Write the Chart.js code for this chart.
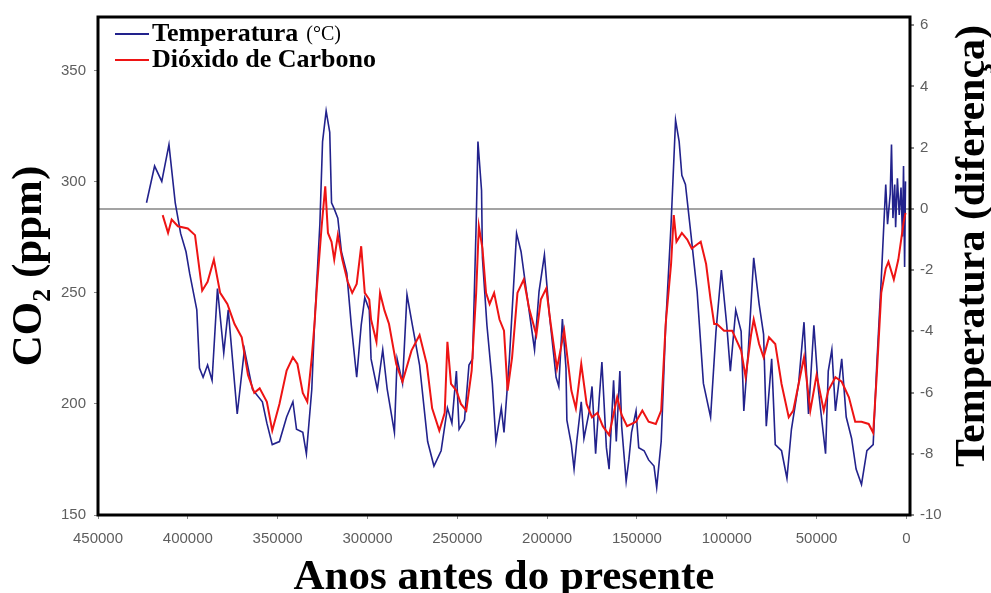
<!DOCTYPE html>
<html>
<head>
<meta charset="utf-8">
<script src="https://cdn.jsdelivr.net/npm/chart.js@4.4.1/dist/chart.umd.min.js"></script>
<style>
  body { margin: 0; background: #fff; }
  canvas { display: block; }
</style>
</head>
<body>
<canvas id="chart" width="991" height="593"></canvas>
<script>
// ── Dados ────────────────────────────────────────────────
const tempYears = [
  423000, 418500, 414500, 410500, 407000, 404000, 401000, 399000, 395000, 393500,
  391500, 389000, 386500, 383500, 380000, 377500, 372500, 368500, 364000, 358500,
  356000, 353000, 349000, 345000, 341500, 339500, 336000, 334000, 331000, 329500,
  326500, 325000, 323000, 321000, 320000, 318500, 316500, 314500, 311500, 309000,
  306000, 303500, 301500, 299000, 298000, 294500, 291500, 289000, 285000, 283500,
  280500, 278000, 275000, 271000, 266500, 263000, 259000, 255500, 253000, 250500,
  249000, 246000, 243500, 241500, 239500, 238500, 236500, 236000, 233500, 230500,
  228500, 225500, 224000, 221000, 217000, 214500, 211500, 207000, 204500, 201500,
  199000, 195000, 193500, 191500, 189500, 189000, 186500, 185000, 183500, 181000,
  179500, 176500, 175000, 173000, 171000, 169500, 167000, 165500, 163000, 161500,
  159500, 158500, 156000, 154500, 153000, 150500, 149000, 146000, 143500, 140500,
  139000, 136500, 134000, 131000, 128500, 126500, 125000, 123000, 120000, 116500,
  113000, 109000, 106000, 103000, 100000, 98000, 95000, 92000, 90500, 88000,
  85000, 82000, 79500, 78000, 75000, 73000, 69500, 66500, 64000, 60000,
  57000, 54500, 51500, 49000, 45000, 43500, 41500, 39500, 36000, 33500,
  30500, 28000, 25000, 22000, 18500, 16500, 14000, 11500, 10500, 9000,
  8300, 7500, 6500, 6000, 5000, 4000, 3000, 2200, 1600, 1000,
  500
];
const tempValues = [
  0.2, 1.4, 0.9, 2.1, 0.2, -0.8, -1.4, -2.1, -3.3, -5.2,
  -5.5, -5.1, -5.6, -2.6, -4.7, -3.3, -6.7, -4.6, -5.9, -6.3,
  -7.0, -7.7, -7.6, -6.8, -6.3, -7.2, -7.3, -8.0, -5.9, -3.8,
  -0.5, 2.2, 3.2, 2.5, 0.2, 0.0, -0.3, -1.4, -2.1, -3.8,
  -5.5, -3.8, -2.9, -3.3, -4.9, -5.9, -4.6, -5.9, -7.3, -4.9,
  -5.7, -2.8, -3.8, -5.1, -7.6, -8.4, -7.9, -6.5, -7.0, -5.3,
  -7.2, -6.9, -5.1, -4.9, -0.5, 2.2, 0.6, -1.6, -3.8, -5.7,
  -7.6, -6.5, -7.3, -4.9, -0.8, -1.4, -2.7, -4.6, -2.7, -1.5,
  -3.3, -5.5, -5.8, -3.6, -5.2, -6.9, -7.7, -8.5, -7.6, -6.3,
  -7.5, -6.6, -5.8, -8.0, -6.2, -5.0, -7.8, -8.5, -5.6, -7.6,
  -5.3, -7.1, -8.9, -8.2, -7.3, -6.6, -7.8, -7.9, -8.2, -8.4,
  -9.1, -7.6, -3.8, -0.5, 2.9, 2.2, 1.1, 0.8, -0.8, -2.7,
  -5.7, -6.8, -4.0, -2.0, -3.8, -5.3, -3.3, -4.0, -6.6, -4.6,
  -1.6, -3.1, -4.1, -7.1, -4.9, -7.7, -7.9, -8.8, -7.2, -5.7,
  -3.7, -6.7, -3.8, -5.9, -8.0, -5.3, -4.6, -6.6, -4.9, -6.8,
  -7.5, -8.5, -9.0, -7.9, -7.7, -5.1, -2.3, 0.8, -0.5, 0.5,
  2.1, -0.3, 0.8, -0.6, 1.0, -0.2, 0.7, -0.9, 1.4, -1.9,
  0.9
];

const co2Years = [
  414000, 411000, 409000, 405500, 400000, 396000, 392000, 389000, 385500, 382000,
  378000, 374000, 370000, 366500, 363000, 360000, 356000, 353000, 349000, 345000,
  341500, 339000, 336000, 333500, 331000, 329500, 328000, 325500, 323500, 322000,
  320000, 318500, 316500, 314000, 311000, 308500, 306000, 303500, 301500, 299000,
  298000, 295000, 293000, 290500, 288000, 284000, 280500, 275500, 271000, 267000,
  264000, 260000, 257000, 255500, 253500, 250500, 248000, 245000, 242000, 239500,
  238000, 236000, 234000, 232000, 229500, 226500, 224000, 222000, 219500, 216500,
  213000, 210000, 206000, 203500, 200500, 198000, 194500, 190500, 186500, 184000,
  181000, 178000, 175000, 172000, 169000, 165500, 161000, 158500, 155500, 150500,
  147000, 143500, 139500, 136500, 134000, 131000, 129500, 128000, 125000, 122000,
  119500, 114500, 111500, 109000, 107000, 105500, 101500, 97000, 92000, 89500,
  86500, 85000, 82000, 79500, 76500, 73000, 69500, 65500, 63000, 60000,
  57000, 53500, 50000, 46000, 43500, 39500, 36000, 32000, 28500, 25000,
  21000, 18500, 16500, 14000, 11500, 10000, 7000, 4500, 1500, 500
];
const co2Values = [
  285, 277, 283, 280, 279, 276, 251, 255, 265, 250,
  245, 236, 230, 213, 205, 207, 201, 188, 200, 215,
  221, 218, 205, 201, 221, 236, 254, 280, 298, 277,
  273, 265, 276, 265, 255, 250, 254, 271, 250, 247,
  238, 228, 250, 242, 236, 218, 210, 224, 231, 218,
  198, 188, 196, 228, 209, 206, 200, 197, 215, 250,
  280, 270, 250, 245, 250, 238, 233, 206, 221, 250,
  256, 243, 231, 247, 252, 236, 216, 233, 206, 198,
  218, 200, 194, 196, 190, 186, 203, 195, 190, 192,
  197, 192, 191, 197, 236, 263, 285, 273, 277, 274,
  270, 273, 263, 247, 236, 236, 233, 233, 224, 212,
  231, 238, 227, 221, 230, 227, 209, 194, 197, 209,
  221, 197, 213, 197, 206, 212, 210, 203, 192, 192,
  191, 187, 213, 250, 261, 264, 256, 265, 282, 286
];

const co2Ticks = [150, 200, 250, 300, 350];
const tempTicks = [-10, -8, -6, -4, -2, 0, 2, 4, 6];
const yearTicks = [450000, 400000, 350000, 300000, 250000, 200000, 150000, 100000, 50000, 0];

// ── Estilo ───────────────────────────────────────────────
const serif = '"Liberation Serif", "Times New Roman", serif';
const sans = '"Liberation Sans", Arial, sans-serif';
const blue = '#22228c';
const red = '#ee1414';
const tickGrey = '#5e5e5e';

const toPoints = (xs, ys) => xs.map((x, i) => ({ x: x, y: ys[i] }));
const fixedTicks = (values) => (scale) => { scale.ticks = values.map(v => ({ value: v })); };

// moldura, legenda dentro do gráfico e título do eixo direito
const extras = {
  id: 'extras',
  afterDraw(chart) {
    const { ctx, chartArea: a } = chart;
    ctx.save();

    ctx.strokeStyle = '#000';
    ctx.lineWidth = 3;
    ctx.strokeRect(a.left, a.top, a.right - a.left, a.bottom - a.top);

    // legenda
    const rows = [
      { color: blue, main: 'Temperatura', extra: '(°C)', y: 34 },
      { color: red, main: 'Dióxido de Carbono', extra: '', y: 60 }
    ];
    rows.forEach(r => {
      ctx.strokeStyle = r.color;
      ctx.lineWidth = 2;
      ctx.beginPath();
      ctx.moveTo(115, r.y);
      ctx.lineTo(149, r.y);
      ctx.stroke();
      ctx.fillStyle = '#000';
      ctx.textBaseline = 'middle';
      ctx.textAlign = 'left';
      ctx.font = 'bold 26px ' + serif;
      ctx.fillText(r.main, 152, r.y);
      if (r.extra) {
        const w = ctx.measureText(r.main).width;
        ctx.font = '20px ' + serif;
        ctx.fillText(r.extra, 152 + w + 8, r.y + 1);
      }
    });

    // título do eixo direito (lido de baixo para cima)
    ctx.translate(973, 246);
    ctx.rotate(-Math.PI / 2);
    ctx.textAlign = 'center';
    ctx.textBaseline = 'middle';
    ctx.font = 'bold 42px ' + serif;
    ctx.fillStyle = '#000';
    ctx.fillText('Temperatura (diferença)', 0, 0);

    ctx.restore();
  }
};

new Chart(document.getElementById('chart'), {
  type: 'line',
  data: {
    datasets: [
      {
        label: 'Dióxido de Carbono',
        data: toPoints(co2Years, co2Values),
        yAxisID: 'yC',
        borderColor: red,
        borderWidth: 2,
        pointRadius: 0,
        tension: 0,
        order: 0
      },
      {
        label: 'Temperatura (°C)',
        data: toPoints(tempYears, tempValues),
        yAxisID: 'yT',
        borderColor: blue,
        borderWidth: 1.6,
        pointRadius: 0,
        tension: 0,
        order: 1
      }
    ]
  },
  plugins: [extras],
  options: {
    responsive: false,
    animation: false,
    devicePixelRatio: 1,
    layout: { padding: { top: 14, left: 0, right: 0, bottom: 0 } },
    plugins: {
      legend: { display: false },
      tooltip: { enabled: false }
    },
    scales: {
      x: {
        type: 'linear',
        min: -2000,
        max: 450000,
        reverse: true,
        afterBuildTicks: fixedTicks(yearTicks),
        afterFit: (s) => { s.height = 78; },
        border: { display: false },
        grid: { drawOnChartArea: false, tickLength: 4, tickColor: '#888' },
        ticks: {
          color: tickGrey,
          font: { family: sans, size: 15 },
          padding: 11,
          maxRotation: 0,
          autoSkip: false,
          callback: (v) => String(v)
        },
        title: {
          display: true,
          text: 'Anos antes do presente',
          color: '#000',
          font: { family: serif, size: 43, weight: 'bold', lineHeight: 0.72 },
          padding: 0
        }
      },
      yC: {
        type: 'linear',
        position: 'left',
        min: 150,
        max: 374.2,
        afterBuildTicks: fixedTicks(co2Ticks),
        afterFit: (s) => { s.width = 98; },
        border: { display: false },
        grid: { drawOnChartArea: false, tickLength: 4, tickColor: '#888' },
        ticks: {
          color: tickGrey,
          font: { family: sans, size: 15 },
          padding: 8
        },
        title: {
          display: true,
          text: 'CO₂ (ppm)',
          color: '#000',
          font: { family: serif, size: 43, weight: 'bold', lineHeight: 1.2 },
          padding: { top: 4, bottom: 0 }
        }
      },
      yT: {
        type: 'linear',
        position: 'right',
        min: -10,
        max: 6.27,
        afterBuildTicks: fixedTicks(tempTicks),
        afterFit: (s) => { s.width = 81; },
        border: { display: false },
        grid: {
          drawOnChartArea: true,
          tickLength: 4,
          tickColor: '#888',
          lineWidth: 2,
          color: (c) => (c.tick && c.tick.value === 0 ? '#a3a3a3' : 'rgba(0,0,0,0)')
        },
        ticks: {
          color: tickGrey,
          font: { family: sans, size: 15 },
          padding: 6
        }
      }
    }
  }
});
</script>
</body>
</html>
